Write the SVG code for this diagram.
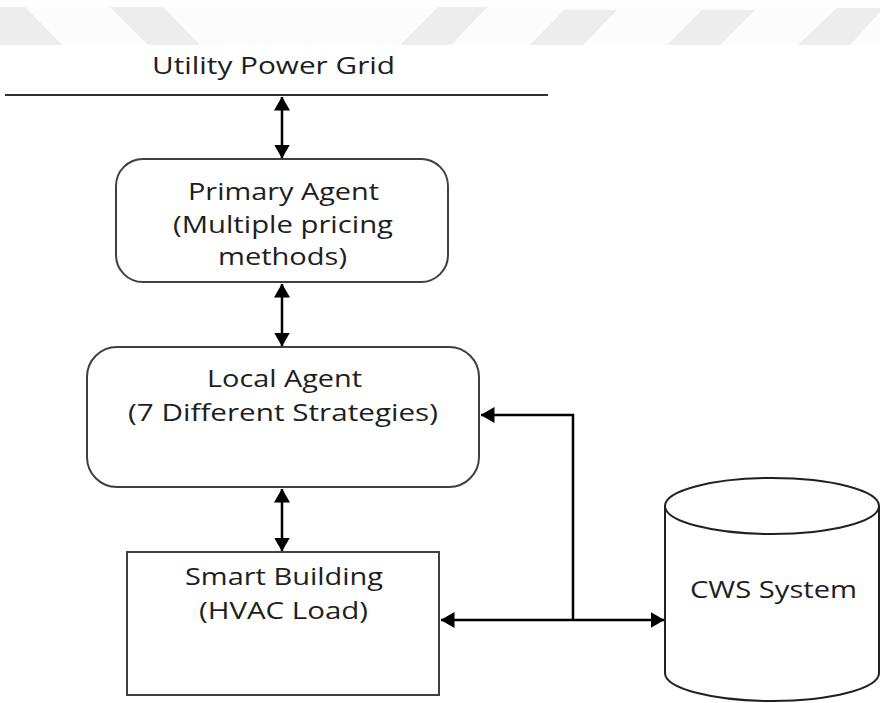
<svg xmlns="http://www.w3.org/2000/svg" width="880" height="703" viewBox="0 0 880 703">
<defs>
<style>
.bg{fill:#ffffff}
.wm{fill:#ededed}
.band{fill:#fcfcfc}
.box{fill:none;stroke:#404040;stroke-width:2}
.cyl{fill:none;stroke:#202020;stroke-width:2}
.grid{stroke:#303030;stroke-width:2}
.conn{fill:none;stroke:#000;stroke-width:2.5}
.t{font-family:"Open Sans","DejaVu Sans",sans-serif;font-size:24px;fill:#1e1e1e;text-anchor:middle}
</style>
<marker id="ah" viewBox="0 0 14 16" refX="13.5" refY="8" markerWidth="14" markerHeight="16" markerUnits="userSpaceOnUse" orient="auto-start-reverse">
<path d="M0,0 L14,8 L0,16 z" fill="#000"/>
</marker>
</defs>
<rect class="bg" x="0" y="0" width="880" height="703"/>
<g id="watermark">
<rect class="band" x="0" y="7" width="880" height="38"/>
<polygon class="wm" points="0,7 25,7 62,45 0,45"/>
<polygon class="wm" points="110,7 163,7 200,45 148,45"/>
<polygon class="wm" points="438,7 487,7 451,45 400,45"/>
<polygon class="wm" points="564,10 617,10 583,45 530,45"/>
<polygon class="wm" points="702,10 755,10 720,45 667,45"/>
<polygon class="wm" points="837,8 880,8 880,12 850,45 798,45"/>
</g>
<g id="grid">
<text class="t" x="273.5" y="74" textLength="243" lengthAdjust="spacingAndGlyphs">Utility Power Grid</text>
<line class="grid" x1="5" y1="95" x2="548" y2="95"/>
</g>
<g id="primary-agent">
<rect class="box" x="116" y="159" width="332" height="123" rx="27" ry="27"/>
<text class="t" x="283.5" y="200" textLength="191" lengthAdjust="spacingAndGlyphs">Primary Agent</text>
<text class="t" x="283" y="233" textLength="220" lengthAdjust="spacingAndGlyphs">(Multiple pricing</text>
<text class="t" x="282.5" y="265" textLength="129" lengthAdjust="spacingAndGlyphs">methods)</text>
</g>
<g id="local-agent">
<rect class="box" x="87" y="347" width="392" height="140" rx="30" ry="30"/>
<text class="t" x="284.5" y="387" textLength="155" lengthAdjust="spacingAndGlyphs">Local Agent</text>
<text class="t" x="283" y="421" textLength="310" lengthAdjust="spacingAndGlyphs">(7 Different Strategies)</text>
</g>
<g id="smart-building">
<rect class="box" x="127" y="552" width="312" height="143"/>
<text class="t" x="284" y="585" textLength="198" lengthAdjust="spacingAndGlyphs">Smart Building</text>
<text class="t" x="283.5" y="619" textLength="169" lengthAdjust="spacingAndGlyphs">(HVAC Load)</text>
</g>
<g id="cws-system">
<path class="cyl" d="M665,506 L665,673 A107,28 0 0 0 879,673 L879,506"/>
<ellipse class="cyl" cx="772" cy="506" rx="107" ry="28"/>
<text class="t" x="773.5" y="598" textLength="167" lengthAdjust="spacingAndGlyphs">CWS System</text>
</g>
<g id="connectors">
<path class="conn" d="M282,97 L282,158" marker-start="url(#ah)" marker-end="url(#ah)"/>
<path class="conn" d="M282,284 L282,346" marker-start="url(#ah)" marker-end="url(#ah)"/>
<path class="conn" d="M282,489 L282,551" marker-start="url(#ah)" marker-end="url(#ah)"/>
<path class="conn" d="M441,620 L664,620" marker-start="url(#ah)" marker-end="url(#ah)"/>
<path class="conn" d="M573,620 L573,415 L481,415" marker-end="url(#ah)"/>
</g>
</svg>
